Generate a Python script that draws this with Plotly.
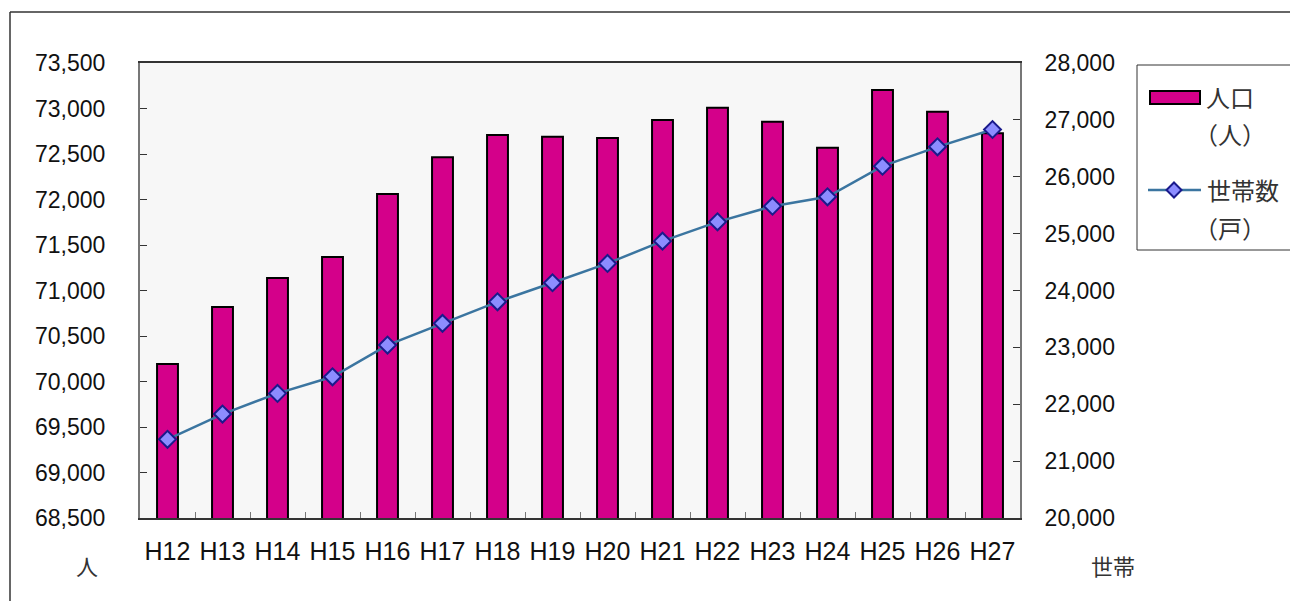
import plotly.graph_objects as go

categories = ["H12", "H13", "H14", "H15", "H16", "H17", "H18", "H19",
              "H20", "H21", "H22", "H23", "H24", "H25", "H26", "H27"]
population = [70192, 70819, 71137, 71368, 72060, 72464, 72709, 72690,
              72676, 72874, 73008, 72855, 72569, 73203, 72965, 72727]
households = [21383, 21828, 22191, 22483, 23040, 23422, 23801, 24136,
              24476, 24868, 25207, 25483, 25647, 26186, 26526, 26831]

left_ticks = list(range(68500, 73501, 500))
right_ticks = list(range(20000, 28001, 1000))

BAR_COLOR = "#D4008A"
LINE_COLOR = "#3B75A0"
MARK_FILL = "#8C8CFF"
MARK_EDGE = "#1A1A8C"

num_font = dict(family="Liberation Sans, Arial", size=23, color="#111")
x_font = dict(family="Liberation Sans, Arial", size=25, color="#111")
jp_font = "Noto Sans CJK JP"

# page is offset by the body margin (~8px), so size the figure to compensate
W, H = 1290, 593
OFF = 8
plot_l, plot_r, plot_t, plot_b = 140 - OFF, 1020 - OFF, 63 - OFF, 518 - OFF
pw, ph = plot_r - plot_l, plot_b - plot_t


def px(x):
    return (x - OFF - plot_l) / pw


def py(y):
    return (plot_b - (y - OFF)) / ph


fig = go.Figure()
fig.add_trace(go.Bar(
    x=categories, y=population, name="人口（人）",
    marker=dict(color=BAR_COLOR, line=dict(color="#000", width=2)),
    width=0.38, yaxis="y", showlegend=False))
fig.add_trace(go.Scatter(
    x=categories, y=households, name="世帯数（戸）", mode="lines+markers",
    line=dict(color=LINE_COLOR, width=2.5),
    marker=dict(symbol="diamond", size=13, color=MARK_FILL, line=dict(color=MARK_EDGE, width=2)),
    yaxis="y2", showlegend=False))

fig.update_layout(
    width=W, height=H,
    margin=dict(l=plot_l, r=W - plot_r, t=plot_t, b=H - plot_b, autoexpand=False),
    paper_bgcolor="white", plot_bgcolor="#F7F7F7",
    showlegend=False,
    xaxis=dict(type="category", range=[-0.5, len(categories) - 0.5],
               showline=True, linecolor="#333", linewidth=1.5,
               mirror=True, ticks="inside", tickson="boundaries", ticklen=6,
               tickcolor="#777", tickfont=x_font, showgrid=False,
               tickangle=0, automargin=False, ticklabelstandoff=10),
    yaxis=dict(range=[68500, 73500], tickvals=left_ticks,
               ticktext=[f"{v:,}" for v in left_ticks],
               showline=True, linecolor="#777", linewidth=2, ticks="inside",
               ticklen=7, tickcolor="#333", tickfont=num_font, showgrid=False,
               ticklabelstandoff=28, automargin=False),
    yaxis2=dict(range=[20000, 28000], tickvals=right_ticks,
                ticktext=[f"{v:,}" for v in right_ticks],
                overlaying="y", side="right", showline=True, linecolor="#777",
                linewidth=2, ticks="inside", ticklen=7, tickcolor="#333",
                tickfont=num_font, showgrid=False, ticklabelstandoff=18,
                automargin=False),
    bargap=0.62,
)

# axis unit labels
fig.add_annotation(x=px(87), y=py(565), xref="paper", yref="paper", text="人",
                   xanchor="center", yanchor="middle",
                   showarrow=False, font=dict(family=jp_font, size=22, color="#333"))
fig.add_annotation(x=px(1113), y=py(565), xref="paper", yref="paper", text="世帯",
                   xanchor="center", yanchor="middle",
                   showarrow=False, font=dict(family=jp_font, size=22, color="#333"))

# legend (drawn as a boxed key)
fig.add_shape(type="rect", xref="paper", yref="paper",
              x0=px(1137), x1=px(1293), y0=py(250), y1=py(65),
              line=dict(color="#333", width=1), fillcolor="white", layer="above")
fig.add_shape(type="rect", xref="paper", yref="paper",
              x0=px(1150), x1=px(1200), y0=py(104), y1=py(91),
              line=dict(color="#000", width=2), fillcolor=BAR_COLOR, layer="above")
fig.add_shape(type="line", xref="paper", yref="paper",
              x0=px(1148), x1=px(1201), y0=py(190), y1=py(190),
              line=dict(color=LINE_COLOR, width=2.5), layer="above")
cx, cy, r = 1174, 190, 7.5
fig.add_shape(type="path", xref="paper", yref="paper", layer="above",
              path=(f"M {px(cx)},{py(cy - r)} L {px(cx + r)},{py(cy)} "
                    f"L {px(cx)},{py(cy + r)} L {px(cx - r)},{py(cy)} Z"),
              fillcolor=MARK_FILL, line=dict(color=MARK_EDGE, width=2))
leg_font = dict(family=jp_font, size=24, color="#333")
for text, x, y in [("人口", 1204, 97), ("（人）", 1192, 133),
                   ("世帯数", 1205, 189), ("（戸）", 1192, 227)]:
    fig.add_annotation(x=px(x), y=py(y), xref="paper", yref="paper", text=text,
                       xanchor="left", yanchor="middle", showarrow=False,
                       font=leg_font)

# outer frame lines
fig.add_shape(type="line", xref="paper", yref="paper", x0=px(10), x1=px(1310),
              y0=py(12), y1=py(12), line=dict(color="#333", width=1.5))
fig.add_shape(type="line", xref="paper", yref="paper", x0=px(10), x1=px(10),
              y0=py(12), y1=py(620), line=dict(color="#333", width=1.5))

fig.write_html("out.html")
